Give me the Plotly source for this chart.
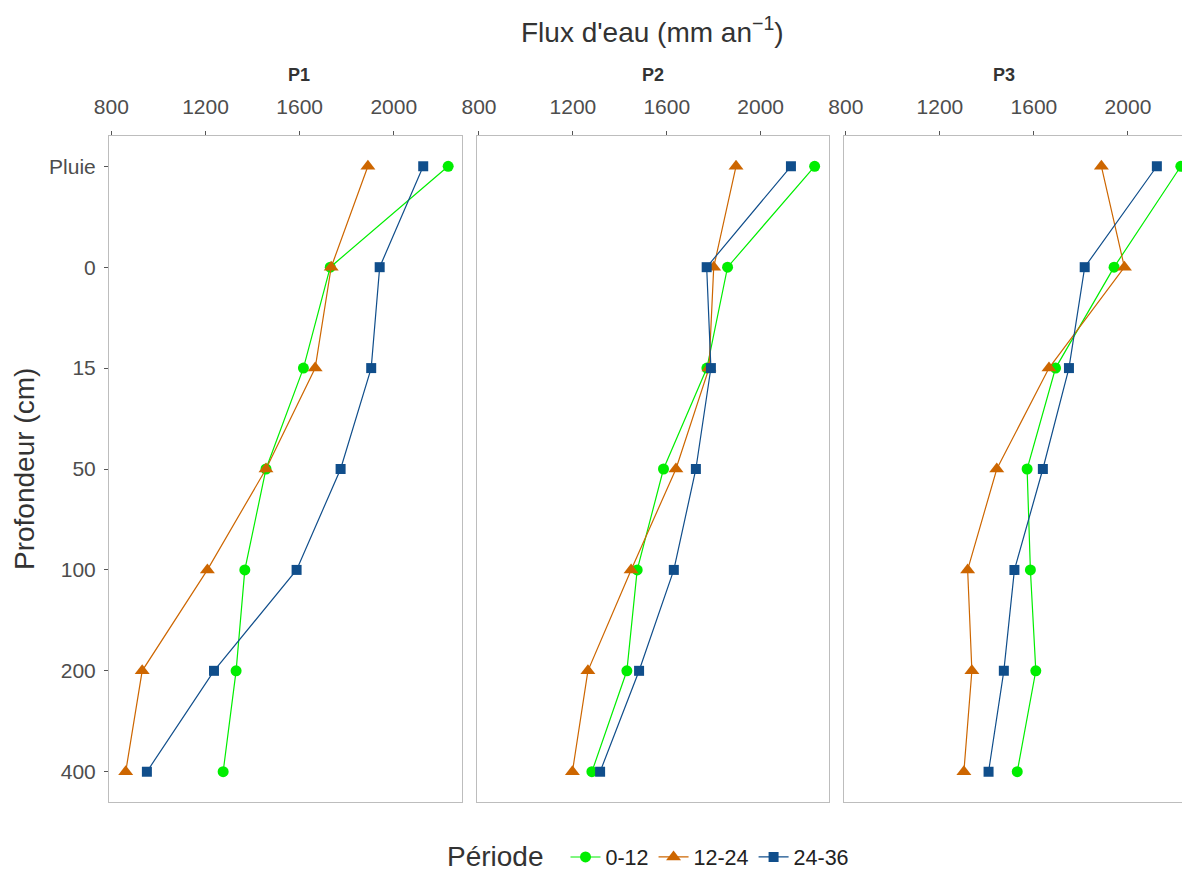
import plotly.graph_objects as go

# Profondeurs (axe y, de haut en bas)
depths = ["Pluie", "0", "15", "50", "100", "200", "400"]
periods = ["0-12", "12-24", "24-36"]
panels = ["P1", "P2", "P3"]

# Flux d'eau (mm an-1)
p1_0_12 = [2231, 1730, 1616, 1457, 1367, 1330, 1275]
p1_12_24 = [1890, 1734, 1666, 1457, 1208, 931, 861]
p1_24_36 = [2125, 1940, 1904, 1774, 1587, 1236, 951]

p2_0_12 = [2230, 1859, 1771, 1586, 1474, 1430, 1281]
p2_12_24 = [1895, 1800, 1780, 1639, 1448, 1264, 1198]
p2_24_36 = [2129, 1770, 1788, 1724, 1630, 1482, 1316]

p3_0_12 = [2225, 1941, 1692, 1571, 1585, 1608, 1529]
p3_12_24 = [1887, 1985, 1664, 1442, 1318, 1336, 1302]
p3_24_36 = [2123, 1816, 1749, 1638, 1517, 1472, 1407]

x_ticks = [800, 1200, 1600, 2000]

data = {
    "P1": [p1_0_12, p1_12_24, p1_24_36],
    "P2": [p2_0_12, p2_12_24, p2_24_36],
    "P3": [p3_0_12, p3_12_24, p3_24_36],
}

colors = ["#00EE00", "#CD6600", "#104E8B"]
symbols = ["circle", "triangle-up", "square"]
sizes = [11, 13, 10]

FONT = "Liberation Sans, Arial, sans-serif"
TICK_COLOR = "#4D4D4D"
BORDER = "#BDBDBD"

# the page body adds an 8px offset, so the figure is 8px smaller
OFF = 8
W, H = 1190 - OFF, 870 - OFF
L, T, B = 109 - OFF, 136 - OFF, 68
PW, PH = W - L, H - T - B


def px_x(page_x):
    # page pixel -> paper x
    return (page_x - 109) / PW


def px_y(page_y):
    # page pixel -> paper y
    return 1 + (136 - page_y) / PH


fig = go.Figure()

for i, panel in enumerate(panels):
    suffix = "" if i == 0 else str(i + 1)
    for j, period in enumerate(periods):
        fig.add_trace(go.Scatter(
            x=data[panel][j],
            y=depths,
            mode="lines+markers",
            name=period,
            legendgroup=period,
            showlegend=(i == 0),
            line=dict(color=colors[j], width=1.2),
            marker=dict(symbol=symbols[j], size=sizes[j], color=colors[j], line=dict(width=0)),
            xaxis="x" + suffix,
            yaxis="y" + suffix,
        ))

domains = [[0, 0.3266], [0.3401, 0.6658], [0.6795, 1.0]]
x_ranges = [[790, 2290], [790, 2290], [790, 2264]]

axis_common = dict(
    showgrid=False, zeroline=False, showline=True, linecolor=BORDER, linewidth=1,
    mirror=True, ticks="outside", ticklen=4, tickcolor="#555555", automargin=False,
    tickfont=dict(family=FONT, size=21, color=TICK_COLOR),
)

layout = dict(
    width=W, height=H,
    margin=dict(l=L, r=0, t=T, b=B, autoexpand=False),
    plot_bgcolor="white", paper_bgcolor="white",
    font=dict(family=FONT, color="#333333"),
    legend=dict(
        orientation="h", x=px_x(710), xanchor="center", y=px_y(857), yanchor="middle",
        font=dict(size=21.5, color="#222222"),
        itemwidth=30,
    ),
)

for i in range(3):
    suffix = "" if i == 0 else str(i + 1)
    layout["xaxis" + suffix] = dict(
        axis_common, domain=domains[i], range=x_ranges[i], side="top",
        tickvals=x_ticks, anchor="y" + suffix, ticklabelstandoff=9,
    )
    layout["yaxis" + suffix] = dict(
        axis_common, type="category", categoryorder="array", categoryarray=depths,
        range=[6.3, -0.3], anchor="x" + suffix, showticklabels=(i == 0),
        ticks="outside" if i == 0 else "", ticklabelstandoff=4,
    )

fig.update_layout(**layout)

# Titres de facettes
for i, panel in enumerate(panels):
    fig.add_annotation(
        text="<b>%s</b>" % panel, x=sum(domains[i]) / 2, xref="paper",
        y=px_y(75), yref="paper", yanchor="middle", showarrow=False,
        font=dict(family=FONT, size=18, color="#333333"),
    )

fig.add_annotation(
    text="Flux d'eau (mm an<sup>\u22121</sup>)", x=px_x(652), xref="paper",
    y=px_y(30), yref="paper", yanchor="middle", showarrow=False,
    font=dict(family=FONT, size=28, color="#333333"),
)
fig.add_annotation(
    text="Profondeur (cm)", x=px_x(24), xref="paper", xanchor="center",
    y=0.5, yref="paper", yanchor="middle", textangle=-90, showarrow=False,
    font=dict(family=FONT, size=28, color="#333333"),
)
fig.add_annotation(
    text="Période", x=px_x(495), xref="paper", xanchor="center",
    y=px_y(856), yref="paper", yanchor="middle", showarrow=False,
    font=dict(family=FONT, size=28, color="#333333"),
)

fig.write_html("out.html")
